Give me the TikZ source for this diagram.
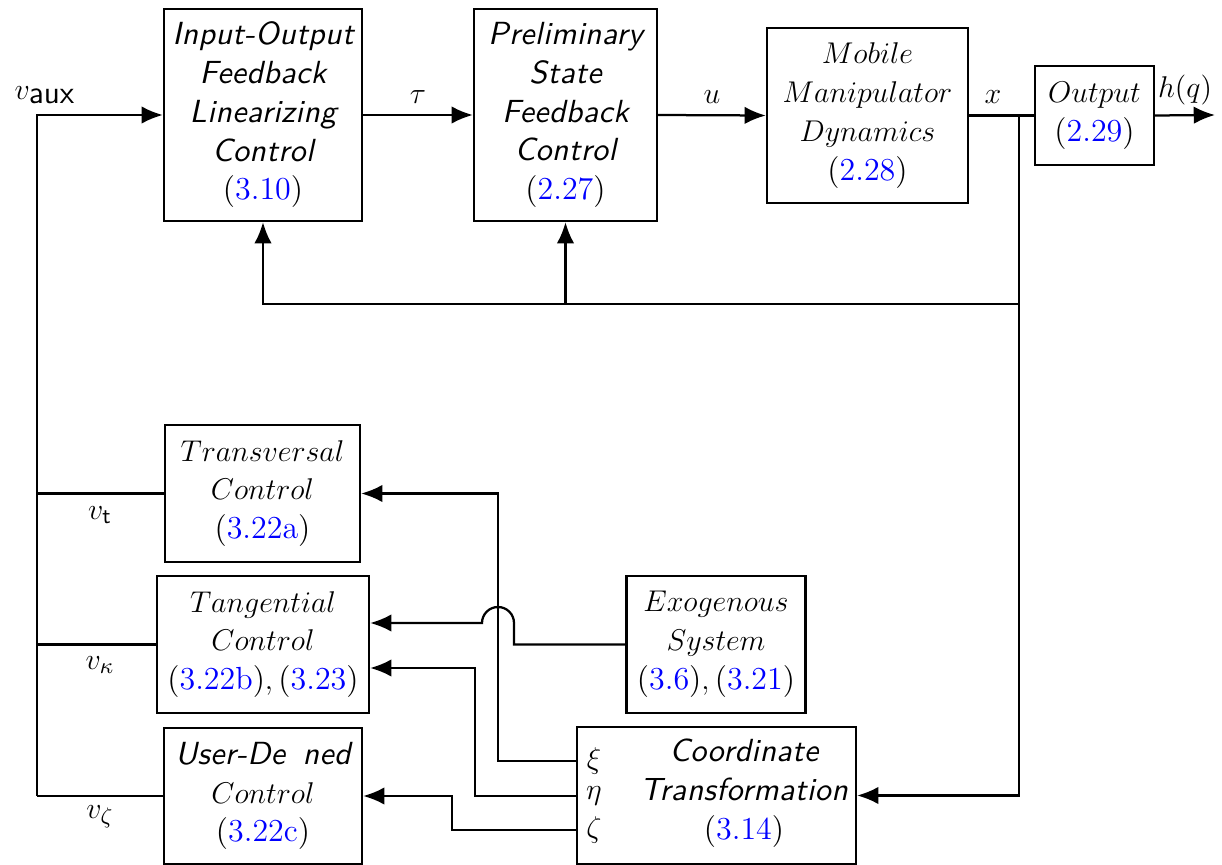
\documentclass[tikz,border=0pt]{standalone}
\usepackage{fontspec}
\usetikzlibrary{arrows.meta}
\newfontfamily\ssifont[LetterSpace=1.2]{lmsans10-oblique.otf}
\definecolor{refblue}{RGB}{0,0,255}
\newcommand{\rf}[1]{(\textcolor{refblue}{#1})}
\begin{document}
\begin{tikzpicture}[x=0.4pt,y=-0.4pt,
  every node/.style={font=\fontsize{12.8}{15.5}\selectfont},
  blk/.style={draw,line width=0.95pt,rectangle,align=center,inner sep=0pt},
  ssi/.style={font=\fontsize{12.8}{15.5}\selectfont\ssifont},
  wire/.style={line width=0.9pt},
  arr/.style={line width=0.9pt,-{Latex[length=8.5pt,width=7pt]}},
  lbl/.style={inner sep=1pt}]
\useasboundingbox (0,0) rectangle (1222,865);
% top row
\node[blk,ssi,minimum width=79.2pt,minimum height=84.8pt] (iofl) at (263,115)
  {Input-Output\\Feedback\\Linearizing\\Control\\{\normalfont\rf{3.10}}};
\node[blk,ssi,minimum width=73.2pt,minimum height=84.8pt] (prel) at (565.5,115)
  {Preliminary\\State\\Feedback\\Control\\{\normalfont\rf{2.27}}};
\node[blk,minimum width=80.4pt,minimum height=70pt] (mmd) at (867.5,115.5)
  {$Mobile$\\$Manipulator$\\$Dynamics$\\\rf{2.28}};
\node[blk,minimum width=47.6pt,minimum height=39.6pt] (outp) at (1094.5,115.5)
  {$Output$\\\rf{2.29}};
% left column
\node[blk,minimum width=78pt,minimum height=54.8pt] (trans) at (262.5,493.5)
  {$Transversal$\\$Control$\\\rf{3.22a}};
\node[blk,minimum width=84.8pt,minimum height=54.8pt] (tang) at (263,644.5)
  {$Tangential$\\$Control$\\\rf{3.22b}$,$\,\rf{3.23}};
\node[blk,minimum width=79.2pt,minimum height=54.4pt] (user) at (263,796)
  {{\ssifont User-De\hspace{0.55em}ned}\\$Control$\\\rf{3.22c}};
\node[blk,minimum width=71.6pt,minimum height=54.8pt] (exo) at (716,644.5)
  {$Exogenous$\\$System$\\\rf{3.6}$,$\,\rf{3.21}};
\node[blk,minimum width=111.6pt,minimum height=54.8pt] (ct) at (716.5,795.5) {};
\node[ssi,align=center,inner sep=0pt] (ctt) at (744,793)
  {Coordinate\\Transformation\\{\normalfont\rf{3.14}}};
\node[lbl] (xi) at (594,761) {$\xi$};
\node[lbl] (eta) at (594,796) {$\eta$};
\node[lbl] (zeta) at (594,830) {$\zeta$};
% coordinates
\coordinate (lft) at (37,115);
\coordinate (br) at (1019,115);
\coordinate (fb) at (1019,304);
\coordinate (hq) at (1215,115);
% labels
\node[lbl] (vaux) at (45,95) {$v_{\textsf{aux}}$};
\node[lbl] (tau) at (418,97) {$\tau$};
\node[lbl] (ul) at (712,97) {$u$};
\node[lbl] (xl) at (993,97) {$x$};
\node[lbl] (hql) at (1185,90) {$h(q)$};
\node[lbl] (vt) at (100,515) {$v_{\mathsf{t}}$};
\node[lbl] (vk) at (100,665) {$v_{\kappa}$};
\node[lbl] (vz) at (100,817) {$v_{\zeta}$};
% main path
\draw[arr] (lft |- user.west) -- (lft) -- (iofl.west);
\draw[arr] (iofl.east) -- (prel.west);
\draw[arr] (prel.east) -- (mmd.west);
\draw[wire] (mmd.east) -- (outp.west);
\draw[arr] (outp.east) -- (hq);
\draw[arr] (br) -- (br |- ct.east) -- (ct.east);
\draw[arr] (fb) -- (iofl.south |- fb) -- (iofl.south);
\draw[arr] (prel.south |- fb) -- (prel.south);
% controller outputs
\draw[wire] (trans.west) -- (lft |- trans.west);
\draw[wire] (tang.west) -- (lft |- tang.west);
\draw[wire] (user.west) -- (lft |- user.west);
% coordinate transformation outputs
\draw[arr] (ct.west |- xi) -- (498,761) -- (498,493.5) -- (trans.east);
\draw[arr] (ct.west |- eta) -- (475,796) -- (475,668) -- (tang.east |- 0,668);
\draw[arr] (ct.west |- zeta) -- (452,830) -- (452,796) -- (user.east);
% exogenous with hop
\draw[arr] (exo.west) -- (514,644.5) -- (514,623) arc (0:-180:16) -- (tang.east |- 0,623);
\end{tikzpicture}
\end{document}
